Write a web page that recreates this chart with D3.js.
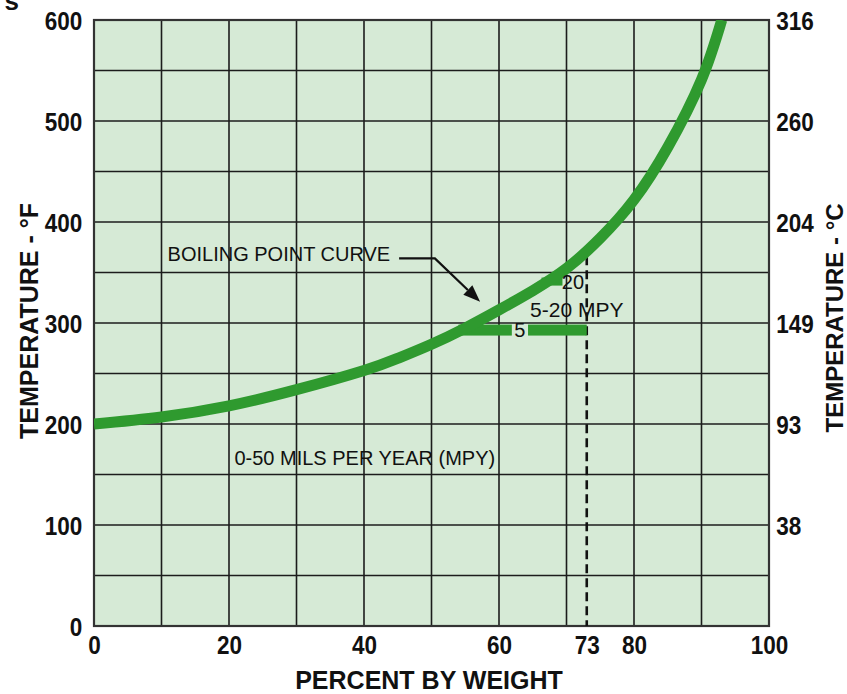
<!DOCTYPE html>
<html>
<head>
<meta charset="utf-8">
<script src="https://cdn.jsdelivr.net/npm/d3@7"></script>
<style>
  html, body { margin: 0; padding: 0; background: #ffffff; }
  svg { display: block; }
</style>
</head>
<body>
<svg id="chart" width="847" height="694"></svg>
<script>
// Boiling point curve: temperature (°F) against percent by weight
const curvePercent = [0, 10, 20, 30, 40, 45, 50, 55, 60, 65, 70, 75, 80, 85, 90, 93];
const curveTempF   = [200, 207, 218, 234, 253, 265, 279, 295, 313, 332, 354, 384, 422, 474, 541, 600];

// Corrosion-rate bands (MPY) marked along the curve
const band5  = { label: "5",  tempF: 293, from: 54, to: 73, gapFrom: 61.9, gapTo: 64.3 };
const band20 = { label: "20", tempF: 341, from: 66.3, to: 69.4 };
const limitPercent = 73;

// Axis ticks
const xTicks = [0, 20, 40, 60, 73, 80, 100];
const xGrid = [0, 10, 20, 30, 40, 50, 60, 70, 80, 90, 100];
const yTicksF = [0, 100, 200, 300, 400, 500, 600];
const yGrid = d3.range(0, 601, 50);
const rightTicksF = [100, 200, 300, 400, 500, 600];
const rightTickLabelsC = ["38", "93", "149", "204", "260", "316"];

const svg = d3.select("#chart");
const plot = { left: 94, right: 769, top: 20, bottom: 626 };

const x = d3.scaleLinear().domain([0, 100]).range([plot.left, plot.right]);
const y = d3.scaleLinear().domain([0, 600]).range([plot.bottom, plot.top]);

const green = "#2f9a2f";
const font = "'Liberation Sans', Arial, Helvetica, sans-serif";

// title fragment running off the top-left corner
svg.append("text")
  .attr("x", 19).attr("y", 10)
  .attr("text-anchor", "end")
  .attr("font-family", font).attr("font-weight", "bold")
  .attr("font-size", 26).attr("fill", "#111")
  .text("s");

svg.append("defs").append("clipPath").attr("id", "plotClip")
  .append("rect")
  .attr("x", plot.left).attr("y", plot.top)
  .attr("width", plot.right - plot.left).attr("height", plot.bottom - plot.top);

// plot background
svg.append("rect")
  .attr("x", plot.left).attr("y", plot.top)
  .attr("width", plot.right - plot.left).attr("height", plot.bottom - plot.top)
  .attr("fill", "#d6ead6");

// grid
const grid = svg.append("g").attr("stroke", "#1c1c1c").attr("stroke-width", 1.6);
grid.selectAll("line.v").data(xGrid).join("line")
  .attr("x1", d => x(d)).attr("x2", d => x(d))
  .attr("y1", plot.top).attr("y2", plot.bottom);
grid.selectAll("line.h").data(yGrid).join("line")
  .attr("x1", plot.left).attr("x2", plot.right)
  .attr("y1", d => y(d)).attr("y2", d => y(d));

// plot frame
svg.append("rect")
  .attr("x", plot.left).attr("y", plot.top)
  .attr("width", plot.right - plot.left).attr("height", plot.bottom - plot.top)
  .attr("fill", "none").attr("stroke", "#333").attr("stroke-width", 2.2);

// 73 % limit (dashed)
svg.append("line")
  .attr("x1", x(limitPercent)).attr("x2", x(limitPercent))
  .attr("y1", y(366)).attr("y2", y(0))
  .attr("stroke", "#111").attr("stroke-width", 2.6)
  .attr("stroke-dasharray", "9,5");

// MPY bands
const bands = svg.append("g").attr("fill", green);
bands.append("rect")
  .attr("x", x(band5.from)).attr("width", x(band5.gapFrom) - x(band5.from))
  .attr("y", y(band5.tempF) - 5.5).attr("height", 11);
bands.append("rect")
  .attr("x", x(band5.gapTo)).attr("width", x(band5.to) - x(band5.gapTo))
  .attr("y", y(band5.tempF) - 5.5).attr("height", 11);
bands.append("rect")
  .attr("x", x(band20.from)).attr("width", x(band20.to) - x(band20.from))
  .attr("y", y(band20.tempF) - 4).attr("height", 8);

// boiling point curve
const curveData = curvePercent.map((p, i) => [p, curveTempF[i]]);
svg.append("path")
  .datum(curveData)
  .attr("clip-path", "url(#plotClip)")
  .attr("fill", "none")
  .attr("stroke", green)
  .attr("stroke-width", 11)
  .attr("d", d3.line().x(d => x(d[0])).y(d => y(d[1])).curve(d3.curveNatural));

// annotations inside the plot
const ann = svg.append("g").attr("font-family", font).attr("font-size", 20).attr("fill", "#111");
ann.append("text").attr("x", x(10.9)).attr("y", y(361)).text("BOILING POINT CURVE");
ann.append("text").attr("x", x(20.8)).attr("y", y(159)).text("0-50 MILS PER YEAR (MPY)");
ann.append("text").attr("x", x(63.1)).attr("y", y(286)).attr("text-anchor", "middle").text(band5.label);
ann.append("text").attr("x", x(69.3)).attr("y", y(334)).text(band20.label);
ann.append("text").attr("x", x(64.6)).attr("y", y(306)).attr("font-size", 21).text("5-20 MPY");

// leader arrow
const arrowStart = [45.2, 364], arrowBend = [50.5, 364], arrowTip = [57.2, 321];
const bx = x(arrowBend[0]), by = y(arrowBend[1]);
const tx = x(arrowTip[0]), ty = y(arrowTip[1]);
const ang = Math.atan2(ty - by, tx - bx);
const headLen = 17, headHalf = 6.5;
const baseX = tx - headLen * Math.cos(ang), baseY = ty - headLen * Math.sin(ang);
svg.append("path")
  .attr("fill", "none").attr("stroke", "#111").attr("stroke-width", 2.2)
  .attr("d", `M${x(arrowStart[0])},${y(arrowStart[1])}L${bx},${by}L${baseX},${baseY}`);
svg.append("path")
  .attr("fill", "#111")
  .attr("d", `M${tx},${ty}L${baseX - headHalf * Math.sin(ang)},${baseY + headHalf * Math.cos(ang)}L${baseX + headHalf * Math.sin(ang)},${baseY - headHalf * Math.cos(ang)}Z`);

// axes: bold, slightly condensed tick labels
const tickStyle = g => {
  g.select(".domain").remove();
  g.selectAll(".tick line").remove();
  g.selectAll(".tick text")
    .attr("font-family", font).attr("font-weight", "bold")
    .attr("font-size", 25).attr("fill", "#111")
    .attr("transform", "scale(0.9,1)");
};

svg.append("g")
  .attr("transform", `translate(0,${plot.bottom})`)
  .call(d3.axisBottom(x).tickValues(xTicks).tickFormat(d3.format("d")).tickSize(0).tickPadding(10))
  .call(tickStyle);

svg.append("g")
  .attr("transform", `translate(${plot.left},0)`)
  .call(d3.axisLeft(y).tickValues(yTicksF).tickFormat(d3.format("d")).tickSize(0).tickPadding(13))
  .call(tickStyle)
  .selectAll(".tick text").attr("dy", "0.36em");

svg.append("g")
  .attr("transform", `translate(${plot.right},0)`)
  .call(d3.axisRight(y).tickValues(rightTicksF)
    .tickFormat((d, i) => rightTickLabelsC[i]).tickSize(0).tickPadding(8))
  .call(tickStyle)
  .selectAll(".tick text").attr("dy", "0.36em");

// axis titles
const titleStyle = t => t.attr("font-family", font).attr("font-weight", "bold")
  .attr("font-size", 25).attr("fill", "#111").attr("text-anchor", "middle");

svg.append("text")
  .attr("x", 429).attr("y", 689)
  .call(titleStyle).text("PERCENT BY WEIGHT");

svg.append("text")
  .attr("transform", `translate(38,${y(302)}) rotate(-90)`)
  .call(titleStyle).text("TEMPERATURE - °F");

svg.append("text")
  .attr("transform", `translate(843,${y(305)}) rotate(-90)`)
  .call(titleStyle).attr("font-size", 24).text("TEMPERATURE - °C");
</script>
</body>
</html>
